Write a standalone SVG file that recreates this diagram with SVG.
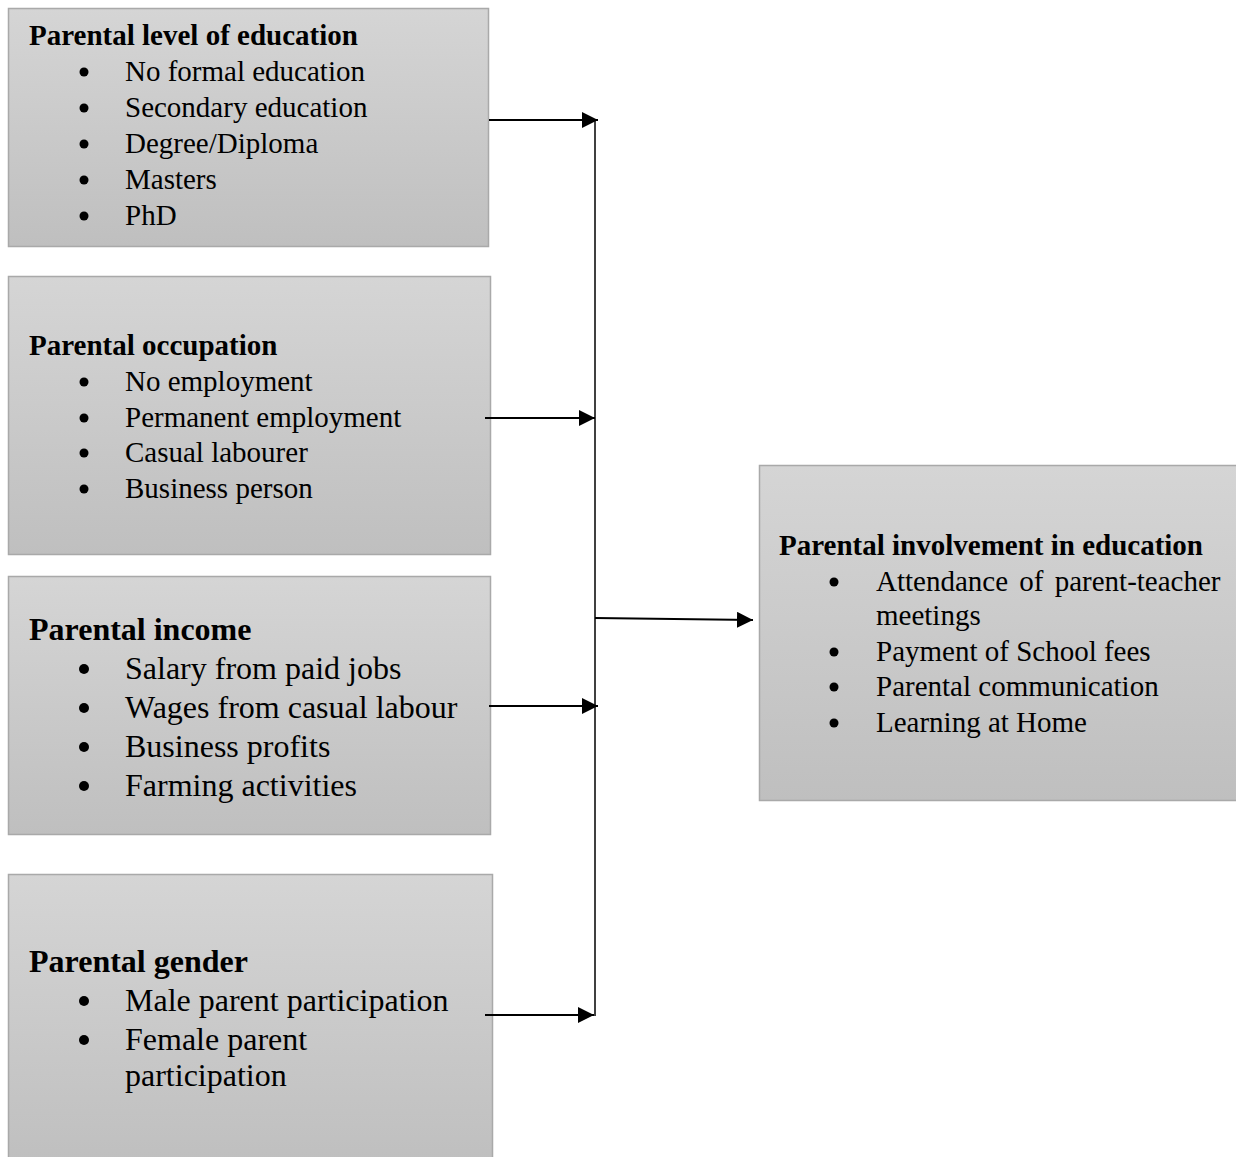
<svg xmlns="http://www.w3.org/2000/svg" width="1236" height="1157" viewBox="0 0 1236 1157">
<defs>
<linearGradient id="g" x1="0" y1="0" x2="0" y2="1">
<stop offset="0" stop-color="#d5d5d5"/>
<stop offset="1" stop-color="#bfbfbf"/>
</linearGradient>
<marker id="ah" markerUnits="userSpaceOnUse" markerWidth="17" markerHeight="17" refX="16" refY="8" orient="auto">
<path d="M0,0 L16,8 L0,16 z" fill="#000"/>
</marker>
<style>
.box{fill:url(#g);stroke:#a9a9a9;stroke-width:1.5}
.t{font-family:"Liberation Serif","Times New Roman",serif;fill:#000}
.h{font-weight:bold}
.s29{font-size:29px}
.s32{font-size:32px}
.b{fill:#000}
.c{stroke:#000;fill:none}
</style>
</defs>
<rect width="1236" height="1157" fill="#fff"/>

<g id="node-education">
<rect class="box" x="8.5" y="8.5" width="480" height="238"/>
<text class="t h s29" x="29" y="45">Parental level of education</text>
<g class="t s29">
<text x="125" y="81">No formal education</text>
<text x="125" y="117">Secondary education</text>
<text x="125" y="153">Degree/Diploma</text>
<text x="125" y="189">Masters</text>
<text x="125" y="225">PhD</text>
</g>
<g class="b">
<circle cx="84" cy="72" r="4.5"/><circle cx="84" cy="108" r="4.5"/><circle cx="84" cy="144" r="4.5"/><circle cx="84" cy="180" r="4.5"/><circle cx="84" cy="216" r="4.5"/>
</g>
</g>

<g id="node-occupation">
<rect class="box" x="8.5" y="276.5" width="482" height="278"/>
<text class="t h s29" x="29" y="355">Parental occupation</text>
<g class="t s29">
<text x="125" y="391">No employment</text>
<text x="125" y="427">Permanent employment</text>
<text x="125" y="462">Casual labourer</text>
<text x="125" y="498">Business person</text>
</g>
<g class="b">
<circle cx="84" cy="382" r="4.5"/><circle cx="84" cy="418" r="4.5"/><circle cx="84" cy="453" r="4.5"/><circle cx="84" cy="489" r="4.5"/>
</g>
</g>

<g id="node-income">
<rect class="box" x="8.5" y="576.5" width="482" height="258"/>
<text class="t h s32" x="29" y="640">Parental income</text>
<g class="t s32">
<text x="125" y="679">Salary from paid jobs</text>
<text x="125" y="718">Wages from casual labour</text>
<text x="125" y="757">Business profits</text>
<text x="125" y="796">Farming activities</text>
</g>
<g class="b">
<circle cx="84" cy="669" r="5"/><circle cx="84" cy="708" r="5"/><circle cx="84" cy="747" r="5"/><circle cx="84" cy="786" r="5"/>
</g>
</g>

<g id="node-gender">
<rect class="box" x="8.5" y="874.5" width="484" height="290"/>
<text class="t h s32" x="29" y="972">Parental gender</text>
<g class="t s32">
<text x="125" y="1011">Male parent participation</text>
<text x="125" y="1050">Female parent</text>
<text x="125" y="1086">participation</text>
</g>
<g class="b">
<circle cx="84" cy="1001" r="5"/><circle cx="84" cy="1040" r="5"/>
</g>
</g>

<g id="node-involvement">
<rect class="box" x="759.5" y="465.5" width="480" height="335"/>
<text class="t h s29" x="779" y="555">Parental involvement in education</text>
<g class="t s29">
<text x="876" y="591" word-spacing="4">Attendance of parent-teacher</text>
<text x="876" y="625">meetings</text>
<text x="876" y="661">Payment of School fees</text>
<text x="876" y="696">Parental communication</text>
<text x="876" y="732">Learning at Home</text>
</g>
<g class="b">
<circle cx="834" cy="582" r="4.5"/><circle cx="834" cy="652" r="4.5"/><circle cx="834" cy="687" r="4.5"/><circle cx="834" cy="723" r="4.5"/>
</g>
</g>

<g id="connectors">
<path class="c" d="M595,120 L595,1016" stroke-width="1.5"/>
<path class="c" d="M489,120 L598,120" stroke-width="2" marker-end="url(#ah)"/>
<path class="c" d="M485,418 L595,418" stroke-width="2" marker-end="url(#ah)"/>
<path class="c" d="M489,706 L598,706" stroke-width="2" marker-end="url(#ah)"/>
<path class="c" d="M485,1015 L594,1015" stroke-width="2" marker-end="url(#ah)"/>
<path class="c" d="M595,618 L753,620" stroke-width="2" marker-end="url(#ah)"/>
</g>
</svg>
